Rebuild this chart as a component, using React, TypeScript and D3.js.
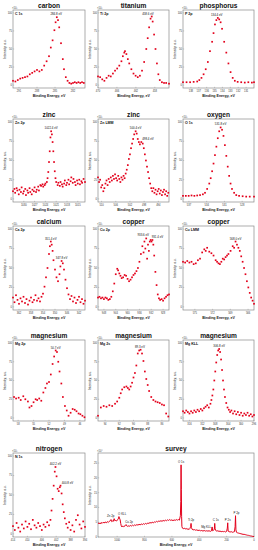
import React from 'react';
import * as d3 from 'd3';

type Pt = [number, number];
type Peak = { e: number; v: number; text: string; dx?: number; dy?: number; anchor?: string };

// binding energy (eV), intensity (a.u., x10^3)
const carbon: Pt[] = [[292.0,6],[291.6,5],[291.2,7],[290.8,9],[290.4,10],[290.0,11],[289.6,12],[289.2,15],[288.8,17],[288.4,19],[288.0,21],[287.6,19],[287.2,21],[286.8,27],[286.4,33],[286.0,40],[285.7,52],[285.4,62],[285.1,76],[284.9,87],[284.7,94],[284.5,90],[284.3,80],[284.0,58],[283.7,36],[283.5,22],[283.2,11],[282.9,6],[282.6,3],[282.3,2],[282.0,3],[281.7,4],[281.4,3],[281.1,4],[280.8,3],[280.5,4],[280.2,3]];
const titanium: Pt[] = [[470,12],[469.55,11],[469.1,8],[468.65,6],[468.2,10],[467.75,13],[467.3,12],[466.85,16],[466.4,20],[465.95,23],[465.5,27],[465.05,33],[464.75,40],[464.45,45],[464.3,47],[464.0,43],[463.7,36],[463.4,30],[462.95,22],[462.5,16],[462.05,13],[461.6,11],[461.15,13],[460.7,20],[460.25,32],[459.8,50],[459.5,65],[459.2,80],[458.9,92],[458.65,95],[458.45,88],[458.15,70],[457.85,50],[457.55,30],[457.25,15],[456.95,7],[456.5,4],[456.05,3],[455.6,3],[455.0,2]];
const phosphorus: Pt[] = [[139,4],[138.55,4],[138.1,4],[137.65,4.5],[137.2,5],[136.93,7],[136.66,10],[136.39,15],[136.12,22],[135.85,32],[135.58,47],[135.31,60],[135.13,72],[134.95,84],[134.77,90],[134.59,93],[134.41,91],[134.23,87],[134.05,78],[133.78,60],[133.51,45],[133.24,30],[132.97,18],[132.7,10],[132.43,6],[132.07,4.5],[131.62,4],[131.17,3.5],[130.72,4],[130.27,3.5],[130,4]];
const zinc2p: Pt[] = [[1033,10],[1032.6,13],[1032.4,8],[1032,14],[1031.8,11],[1031.4,6],[1031.2,12],[1030.8,9],[1030.6,15],[1030.2,7],[1030,10],[1029.6,13],[1029.4,5],[1029,11],[1028.8,8],[1028.4,14],[1028.2,9],[1027.8,6],[1027.6,12],[1027.2,10],[1027,15],[1026.6,9],[1026.4,12],[1026,16],[1025.8,11],[1025.4,18],[1025.2,17],[1024.8,19],[1024.6,16],[1024.2,18],[1024,20],[1023.6,22],[1023.4,27],[1023.2,35],[1023,48],[1022.8,62],[1022.6,80],[1022.4,88],[1022.2,84],[1022,74],[1021.8,62],[1021.6,48],[1021.4,36],[1021.2,27],[1021,22],[1020.6,18],[1020.4,21],[1020,17],[1019.8,22],[1019.4,19],[1019.2,16],[1018.8,20],[1018.6,24],[1018.2,18],[1018,21],[1017.6,25],[1017.4,19],[1017,23],[1016.8,28],[1016.4,21],[1016.2,26],[1015.8,22],[1015.6,18],[1015.2,24],[1015,20],[1014.6,25],[1014.4,19],[1014,23],[1013.8,21],[1013.4,26],[1013,22]];
const zincLMM: Pt[] = [[511.0,28],[510.7,22],[510.4,25],[510.1,15],[509.8,18],[509.5,10],[509.2,14],[508.9,20],[508.6,24],[508.3,18],[508.0,26],[507.7,22],[507.4,28],[507.1,24],[506.8,30],[506.5,26],[506.2,32],[505.9,27],[505.6,24],[505.3,30],[505.0,26],[504.7,22],[504.4,28],[504.1,25],[503.8,30],[503.5,27],[503.2,33],[502.9,38],[502.6,44],[502.3,52],[502.0,58],[501.7,66],[501.4,72],[501.1,78],[500.8,84],[500.4,88],[500.1,85],[499.8,78],[499.5,74],[499.2,71],[498.8,74],[498.4,72],[498.1,66],[497.8,58],[497.5,50],[497.2,42],[496.9,35],[496.6,27],[496.3,20],[496.0,14],[495.7,10],[495.4,14],[495.1,8],[494.8,12],[494.5,6],[494.2,10],[493.9,13],[493.6,7],[493.3,11],[493.0,5],[492.7,9],[492.4,12],[492.1,6],[491.8,10],[491.5,4],[491.2,8]];
const oxygen: Pt[] = [[538,4],[537.52,4],[537.04,4],[536.56,4.5],[536.08,4],[535.6,4.5],[535.12,5],[534.64,6],[534.28,8],[533.92,13],[533.56,20],[533.32,27],[533.08,36],[532.84,46],[532.6,57],[532.36,68],[532.12,79],[531.88,88],[531.64,93],[531.4,90],[531.16,82],[530.92,70],[530.68,56],[530.44,42],[530.2,30],[529.96,20],[529.72,13],[529.36,8],[529,5],[528.52,4],[527.92,3.5],[527.32,3],[526.72,3],[526,3]];
const calcium: Pt[] = [[364,12],[363.5,6],[363,15],[362.5,9],[362,4],[361.5,11],[361,7],[360.5,13],[360,5],[359.5,10],[359,3],[358.5,8],[358,12],[357.5,6],[357,9],[356.5,15],[356,8],[355.5,11],[355,7],[354.5,13],[354,17],[353.5,26],[353,38],[352.5,50],[352,68],[351.7,78],[351.4,84],[351.1,80],[350.8,72],[350.5,60],[350,48],[349.5,38],[349,33],[348.5,42],[348.2,52],[347.8,59],[347.4,56],[347,48],[346.5,35],[346,24],[345.5,16],[345,10],[344.5,14],[344,7],[343.5,12],[343,5],[342.5,9],[342,13],[341.5,6],[341,10],[340.5,4],[340,8]];
const copper2p: Pt[] = [[950,12],[949.5,13],[949,11],[948.5,12],[948,10],[947.5,12],[947,11],[946.5,9],[946,10],[945.5,13],[945,20],[944.5,30],[944,42],[943.5,49],[943.2,47],[942.8,43],[942.4,40],[942,37],[941.5,38],[941,41],[940.5,40],[940,36],[939.5,33],[939,35],[938.5,38],[938,41],[937.5,43],[937,46],[936.5,50],[936,58],[935.5,68],[935,78],[934.6,70],[934.3,84],[934,75],[933.7,88],[933.4,62],[933.1,80],[932.8,72],[932.5,84],[932.2,86],[931.9,84],[931.6,86],[931.3,80],[931,66],[930.6,45],[930.2,28],[929.8,16],[929.4,11],[929,9],[928.5,10],[928,8],[927.5,11],[927,13],[926.5,15],[926,16]];
const copperLMM: Pt[] = [[577,58],[576.64,57],[576.28,59],[575.92,57],[575.56,58],[575.2,55],[574.84,56],[574.48,60],[574.12,62],[573.76,70],[573.4,74],[573.16,72],[572.92,76],[572.56,71],[572.2,69],[571.84,66],[571.48,60],[571.24,58],[571,56],[570.76,55],[570.52,58],[570.28,62],[570.04,61],[569.8,64],[569.56,66],[569.32,68],[568.96,72],[568.6,78],[568.36,76],[568.12,84],[567.88,80],[567.64,76],[567.4,72],[567.16,65],[566.92,58],[566.68,50],[566.44,42],[566.2,33],[565.96,25],[565.72,18],[565.48,12],[565.24,8],[565,4]];
const mg2p: Pt[] = [[58.8,28],[58.4,26],[57.9,27],[57.5,24],[57.0,29],[56.6,25],[56.1,22],[55.8,14],[55.4,16],[55.0,21],[54.6,25],[54.3,24],[53.9,26],[53.5,23],[53.1,34],[52.7,40],[52.4,46],[52.0,48],[51.65,58],[51.3,72],[51.0,82],[50.7,90],[50.45,88],[50.2,75],[49.95,62],[49.6,46],[49.3,28],[48.9,16],[48.55,10],[48.2,3],[47.8,7],[47.4,12],[47.0,11],[46.65,9],[46.25,6],[45.9,5],[45.5,3],[45.1,1]];
const mg2s: Pt[] = [[95.0,3],[94.6,14],[94.2,16],[93.8,15],[93.4,17],[93.0,16],[92.6,19],[92.3,22],[92.0,27],[91.8,33],[91.6,38],[91.3,41],[91.0,42],[90.8,40],[90.6,38],[90.4,42],[90.2,47],[90.0,54],[89.8,60],[89.6,70],[89.4,86],[89.2,90],[89.0,91],[88.8,86],[88.6,76],[88.4,62],[88.2,52],[88.0,44],[87.8,36],[87.5,28],[87.2,24],[86.9,22],[86.6,21],[86.3,20],[86.0,18],[85.7,17],[85.4,6],[85.1,2]];
const mgKLL: Pt[] = [[318,9],[317.5,7],[317,10],[316.5,8],[316,6],[315.5,9],[315,7],[314.5,10],[314,8],[313.5,11],[313,9],[312.5,12],[312,10],[311.5,13],[311,15],[310.5,17],[310,14],[309.5,19],[309.2,24],[308.9,30],[308.6,38],[308.3,50],[308,62],[307.7,74],[307.4,84],[307.1,90],[306.8,92],[306.5,88],[306.2,78],[305.9,64],[305.6,50],[305.3,38],[305,28],[304.6,20],[304.2,14],[303.8,11],[303.4,8],[303,10],[302.5,6],[302,9],[301.5,5],[301,8],[300.5,4],[300,7],[299.5,3],[299,6],[298.5,4],[298,7],[297.5,3],[297,5],[296.5,2],[296,4]];
const nitrogen: Pt[] = [[414,10],[413.5,5],[413,14],[412.5,8],[412,3],[411.5,12],[411,7],[410.5,16],[410,9],[409.5,13],[409,6],[408.5,18],[408,11],[407.5,8],[407,14],[406.5,10],[406,5],[405.5,12],[405,9],[404.5,15],[404,11],[403.6,18],[403.3,30],[403,45],[402.7,62],[402.4,80],[402.2,86],[401.9,74],[401.6,58],[401.3,55],[401,60],[400.8,62],[400.5,52],[400.2,38],[399.9,28],[399.6,20],[399.2,13],[398.8,8],[398.4,15],[398,5],[397.5,11],[397,3],[396.5,18],[396,24],[395.5,12],[395,7],[394.5,16],[394,9]];

// survey, intensity x10^4
const survey: Pt[] = [[1140,4.5],[1132,4.8],[1125,4.4],[1118,4.9],[1110,4.6],[1102,5.0],[1095,4.7],[1088,5.1],[1080,4.8],[1072,5.2],[1065,4.9],[1058,5.3],[1050,5.5],[1045,5.9],[1040,5.2],[1034,5.4],[1028,5.3],[1022,6.2],[1017,5.5],[1010,5.6],[1004,5.4],[998,5.8],[992,6.1],[987,6.9],[983,6.4],[978,5.8],[974,4.6],[970,3.8],[965,3.4],[960,3.7],[955,3.5],[950,3.8],[945,3.6],[940,3.9],[935,4.2],[931,3.8],[926,3.6],[920,3.8],[912,3.6],[904,3.9],[896,3.7],[888,4.0],[880,3.8],[872,4.1],[864,3.9],[856,4.2],[848,4.0],[840,4.3],[832,4.1],[824,4.4],[816,4.2],[808,4.5],[800,4.3],[792,4.6],[784,4.4],[776,4.7],[768,4.6],[760,4.9],[752,4.7],[744,5.0],[736,4.8],[728,5.1],[720,5.0],[712,5.3],[704,5.1],[696,5.4],[688,5.3],[680,5.5],[672,5.3],[664,5.6],[656,5.4],[648,5.7],[640,5.5],[632,5.8],[624,5.6],[616,5.9],[608,5.6],[600,5.8],[592,5.5],[584,5.8],[576,5.6],[568,5.9],[560,5.7],[552,5.9],[545,5.7],[538,7.2],[535,12],[533,24.4],[531,16],[529,7],[527,3.6],[523,3.0],[517,2.8],[510,3.0],[503,2.7],[496,2.9],[489,2.6],[482,2.8],[475,2.5],[468,2.9],[463,3.6],[460,4.6],[457,3.2],[452,2.6],[445,2.4],[436,2.5],[427,2.3],[418,2.4],[409,2.2],[400,2.3],[391,2.1],[382,2.2],[373,2.0],[364,2.2],[355,2.0],[346,2.1],[337,2.0],[328,2.1],[319,1.9],[311,2.1],[306,3.4],[302,2.1],[295,2.3],[290,2.6],[287,4.6],[284,2.8],[280,2.2],[272,2.0],[264,2.1],[256,1.9],[248,2.0],[240,1.8],[232,1.9],[224,1.8],[216,1.9],[208,1.7],[200,1.9],[195,3.0],[192,4.8],[189,2.0],[182,1.8],[174,1.7],[166,1.8],[158,1.6],[150,1.7],[143,1.8],[138,3.5],[135,7.2],[132,2.4],[128,1.6],[120,1.4],[112,1.3],[104,1.2],[96,1.1],[88,1.0],[80,0.9],[72,0.9],[64,0.8],[56,0.7],[48,0.6],[40,0.55],[32,0.45],[24,0.35],[16,0.3],[8,0.2],[0,0.15]];
const surveyPeaks: Peak[] = [
  { e: 1040, v: 5.9, text: 'Zn 2p', dx: -1, dy: -1 },
  { e: 985, v: 6.9, text: 'O KLL', dx: 3 },
  { e: 935, v: 4.2, text: 'Cu 2p', dx: 3 },
  { e: 533, v: 24.4, text: 'O 1s' },
  { e: 460, v: 4.6, text: 'Ti 2p' },
  { e: 306, v: 3.4, text: 'Mg KLL', anchor: 'end', dx: -1, dy: 3 },
  { e: 287, v: 4.6, text: 'C 1s', dx: 1 },
  { e: 192, v: 4.8, text: 'P 2s' },
  { e: 135, v: 7.2, text: 'P 2p', dx: 1 },
];
const surveyXTicks = [1000, 800, 600, 400, 200, 0];
const surveyYTicks = [0, 5, 10, 15, 20, 25];
const intensityTicks = [0, 25, 50, 75, 100];

const panels = [
  { title: 'carbon', label: 'C 1s', col: 0, row: 0, x: [292, 280], ticks: [291, 288, 285, 282], data: carbon, peaks: [{ e: 284.8, v: 94, text: '284.8 eV' }] },
  { title: 'titanium', label: 'Ti 2p', col: 1, row: 0, x: [470, 455], ticks: [470, 466, 462, 458], data: titanium, peaks: [{ e: 458.6, v: 95, text: '458.6 eV', dx: -4 }] },
  { title: 'phosphorus', label: 'P 2p', col: 2, row: 0, x: [139, 130], ticks: [138, 137, 136, 135, 134, 133, 132, 131], data: phosphorus, peaks: [{ e: 134.6, v: 93, text: '134.4 eV', dx: -1 }] },
  { title: 'zinc', label: 'Zn 2p', col: 0, row: 1, x: [1033, 1013], ticks: [1030, 1027, 1024, 1021, 1018, 1015], data: zinc2p, peaks: [{ e: 1022.4, v: 88, text: '1022.4 eV' }] },
  { title: 'zinc', label: 'Zn LMM', col: 1, row: 1, x: [511, 491], ticks: [510, 506, 502, 498, 494], data: zincLMM, peaks: [{ e: 500.4, v: 88, text: '500.4 eV' }, { e: 498.6, v: 74, text: '498.4 eV', dx: 6 }] },
  { title: 'oxygen', label: 'O 1s', col: 2, row: 1, x: [538, 526], ticks: [537, 534, 531, 528], data: oxygen, peaks: [{ e: 531.64, v: 93, text: '531.8 eV' }] },
  { title: 'calcium', label: 'Ca 2p', col: 0, row: 2, x: [364, 340], ticks: [362, 358, 354, 350, 346, 342], data: calcium, peaks: [{ e: 351.4, v: 84, text: '351.4 eV' }, { e: 347.8, v: 59, text: '347.8 eV' }] },
  { title: 'copper', label: 'Cu 2p', col: 1, row: 2, x: [950, 926], ticks: [948, 944, 940, 936, 932, 928], data: copper2p, peaks: [{ e: 933.7, v: 88, text: '933.6 eV', dx: -3 }, { e: 931.6, v: 86, text: '931.4 eV', dx: 5 }] },
  { title: 'copper', label: 'Cu LMM', col: 2, row: 2, x: [577, 565], ticks: [575, 572, 569, 566], data: copperLMM, peaks: [{ e: 568.12, v: 84, text: '568.0 eV' }] },
  { title: 'magnesium', label: 'Mg 2p', col: 0, row: 3, x: [59, 45], ticks: [58, 55, 52, 49, 46], data: mg2p, peaks: [{ e: 50.7, v: 90, text: '50.7 eV' }] },
  { title: 'magnesium', label: 'Mg 2s', col: 1, row: 3, x: [95, 85], ticks: [94, 92, 90, 88, 86], data: mg2s, peaks: [{ e: 89.1, v: 91, text: '89.3 eV' }] },
  { title: 'magnesium', label: 'Mg KLL', col: 2, row: 3, x: [318, 296], ticks: [316, 312, 308, 304, 300, 296], data: mgKLL, peaks: [{ e: 306.8, v: 92, text: '306.8 eV' }] },
  { title: 'nitrogen', label: 'N 1s', col: 0, row: 4, x: [414, 394], ticks: [414, 410, 406, 402, 398, 394], data: nitrogen, peaks: [{ e: 402.2, v: 86, text: '402.2 eV' }, { e: 400.8, v: 62, text: '400.8 eV', dx: 7 }] },
];

const COLS = [[13, 85], [98, 169], [183, 254]];
const ROWS = [[10, 88], [119, 202], [226, 310], [340, 421], [453, 537]];
const RED = '#e3001b';
const FONT = '"Liberation Sans", Arial, sans-serif';

const Frame = ({ l, r, t, b, title, label, unit, sx, sy, xTicks, yTicks }: any) => (
  <g fontFamily={FONT}>
    <text x={(l + r) / 2} y={t - 2.5} textAnchor="middle" fontSize={6.6} fontWeight="bold" fill="#111">{title}</text>
    <text x={l - 1} y={t - 1} fontSize={2.6} fill="#333">{unit}</text>
    <rect x={l} y={t} width={r - l} height={b - t} fill="none" stroke="#8a8a8a" strokeWidth={0.7} />
    {xTicks.map((d: number) => (
      <g key={'x' + d}>
        <line x1={sx(d)} x2={sx(d)} y1={b} y2={b - 1.2} stroke="#8a8a8a" strokeWidth={0.4} />
        <text x={sx(d)} y={b + 4.4} textAnchor="middle" fontSize={2.6} fill="#333">{d}</text>
      </g>
    ))}
    {yTicks.map((d: number) => (
      <g key={'y' + d}>
        <line x1={l} x2={l + 1.2} y1={sy(d)} y2={sy(d)} stroke="#8a8a8a" strokeWidth={0.4} />
        <text x={l - 1} y={sy(d) + 0.9} textAnchor="end" fontSize={2.6} fill="#333">{d}</text>
      </g>
    ))}
    <text x={(l + r) / 2} y={b + 9} textAnchor="middle" fontSize={3.6} fontWeight="bold" fill="#222">Binding Energy, eV</text>
    <text transform={`translate(${l - 7},${(t + b) / 2}) rotate(-90)`} textAnchor="middle" fontSize={3.3} fill="#222">Intensity, a.u.</text>
    {label && <text x={l + 2} y={t + 4.6} fontSize={3.6} fontWeight="bold" fill="#111">{label}</text>}
  </g>
);

const PeakLabels = ({ peaks, sx, sy }: any) => (
  <g fontFamily={FONT} fontSize={2.9} fill="#111">
    {peaks.map((p: Peak) => (
      <text key={p.text} x={sx(p.e) + (p.dx || 0)} y={sy(p.v) - 2 + (p.dy || 0)} textAnchor={p.anchor || 'middle'}>{p.text}</text>
    ))}
  </g>
);

const Spectrum = ({ p }: any) => {
  const [l, r] = COLS[p.col];
  const [t, b] = ROWS[p.row];
  const sx = d3.scaleLinear().domain(p.x).range([l, r]);
  const sy = d3.scaleLinear().domain([-4, 104]).range([b, t]);
  return (
    <g>
      <Frame l={l} r={r} t={t} b={b} title={p.title} label={p.label} unit="×10³" sx={sx} sy={sy} xTicks={p.ticks} yTicks={intensityTicks} />
      {p.data.map(([e, v]: Pt, i: number) => (
        <rect key={i} x={sx(e) - 0.85} y={sy(v) - 0.85} width={1.7} height={1.7} fill={RED} />
      ))}
      <PeakLabels peaks={p.peaks} sx={sx} sy={sy} />
    </g>
  );
};

const Survey = () => {
  const l = COLS[1][0], r = COLS[2][1];
  const [t, b] = ROWS[4];
  const sx = d3.scaleLinear().domain([1140, 0]).range([l, r]);
  const sy = d3.scaleLinear().domain([0, 28.4]).range([b, t]);
  const line = d3.line<Pt>().x(d => sx(d[0])).y(d => sy(d[1]));
  return (
    <g>
      <Frame l={l} r={r} t={t} b={b} title="survey" label="" unit="×10⁴" sx={sx} sy={sy} xTicks={surveyXTicks} yTicks={surveyYTicks} />
      <path d={line(survey) || ''} fill="none" stroke={RED} strokeWidth={1} strokeLinejoin="round" />
      <PeakLabels peaks={surveyPeaks} sx={sx} sy={sy} />
    </g>
  );
};

export default function App() {
  return (
    <svg width={258} height={550} style={{ position: 'absolute', left: 0, top: 0, background: '#fff', opacity: 0.999 }}>
      {panels.map((p, i) => <Spectrum key={i} p={p} />)}
      <Survey />
    </svg>
  );
}
